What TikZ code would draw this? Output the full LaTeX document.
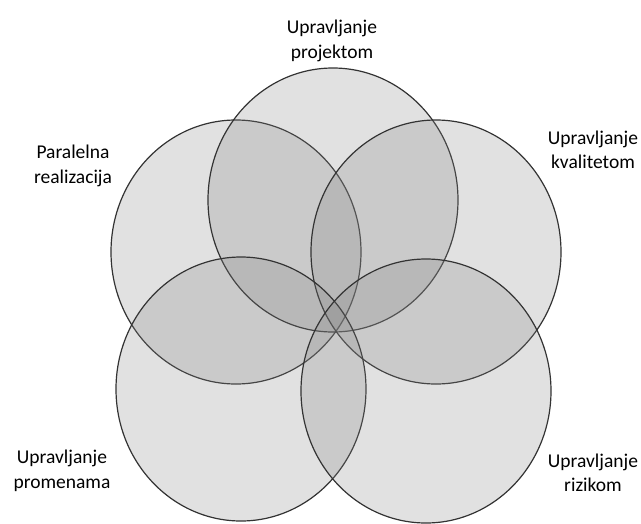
\documentclass[tikz,border=0pt]{standalone}
\usepackage{fontspec}
\setmainfont{Carlito}
\usetikzlibrary{shapes.geometric}
\begin{document}
\begin{tikzpicture}[x=1pt,y=-1pt,
  area/.style={ellipse, draw=black!80, line width=1.2pt,
    fill=black!50, fill opacity=0.24, draw opacity=1,
    minimum width=250pt, minimum height=264pt, inner sep=0pt},
  label/.style={align=center, inner sep=0pt,
    font=\fontsize{19.5}{24.5}\selectfont, text=black}]
  \useasboundingbox (0,0) rectangle (641,523);
  % five overlapping areas
  \node[area] (real) at (236,252) {};
  \node[area] (proj) at (333,200) {};
  \node[area] (kval) at (436,252) {};
  \node[area] (prom) at (241,389) {};
  \node[area] (rizk) at (426,391) {};
  % captions
  \node[label] (tproj) at (332,41) {Upravljanje\\projektom};
  \node[label] (treal) at (73,166) {Paralelna\\realizacija};
  \node[label] (tkval) at (593,150) {Upravljanje\\kvalitetom};
  \node[label] (tprom) at (62,471) {Upravljanje\\promenama};
  \node[label] (trizk) at (593,473) {Upravljanje\\rizikom};
\end{tikzpicture}
\end{document}
